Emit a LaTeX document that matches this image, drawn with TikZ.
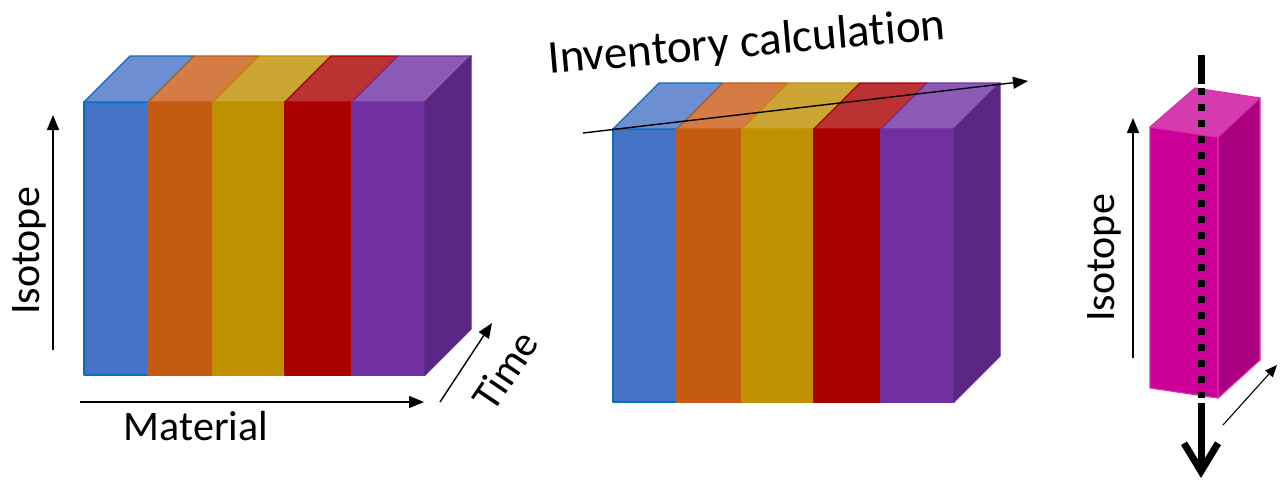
\documentclass[tikz,border=0pt]{standalone}
\usepackage{fontspec}
\setmainfont{Carlito}[Ligatures=NoCommon]
\usetikzlibrary{arrows.meta}
\definecolor{blueedge}{HTML}{0070C0}
\definecolor{bluefront}{HTML}{4472C4}
\definecolor{bluetop}{HTML}{6D8FD2}
\definecolor{orangefront}{HTML}{C55A11}
\definecolor{orangetop}{HTML}{D47C44}
\definecolor{goldfront}{HTML}{BF9000}
\definecolor{goldtop}{HTML}{CBA634}
\definecolor{redfront}{HTML}{AA0000}
\definecolor{redtop}{HTML}{BA3232}
\definecolor{purplefront}{HTML}{7030A0}
\definecolor{purpletop}{HTML}{8D5BB6}
\definecolor{purpleside}{HTML}{5A2782}
\definecolor{pinkfront}{HTML}{CC0099}
\definecolor{pinktop}{HTML}{D63CAE}
\definecolor{pinkside}{HTML}{A8007E}
\definecolor{pinkedge}{HTML}{D92FAA}
\begin{document}
\begin{tikzpicture}[x=1pt, y=-1pt, >={Triangle[length=15pt,width=12pt]},
  face/.style 2 args={draw=#1, fill=#2, line width=1.2pt, line join=round},
  axis/.style={->, line width=1.4pt},
  axislabel/.style={font=\fontsize{42}{48}\selectfont, inner sep=0pt},
  probe/.style={line width=7pt}]
\useasboundingbox (0,0) rectangle (1281,480);

% material blocks (front, top, side)
\foreach \bx/\by in {84/102, 613/129}{
\begin{scope}[shift={(\bx,\by)}]
\filldraw[face={blueedge}{bluefront}] (0,0) rectangle (64,273);
\filldraw[face={blueedge}{bluetop}] (0,0) -- (64,0) -- (110,-46) -- (46,-46) -- cycle;
\filldraw[face={orangefront}{orangefront}] (64,0) rectangle (129,273);
\filldraw[face={orangefront}{orangetop}] (64,0) -- (129,0) -- (175,-46) -- (110,-46) -- cycle;
\filldraw[face={goldfront}{goldfront}] (129,0) rectangle (201,273);
\filldraw[face={goldfront}{goldtop}] (129,0) -- (201,0) -- (247,-46) -- (175,-46) -- cycle;
\filldraw[face={redfront}{redfront}] (201,0) rectangle (268,273);
\filldraw[face={redfront}{redtop}] (201,0) -- (268,0) -- (314,-46) -- (247,-46) -- cycle;
\filldraw[face={purplefront}{purplefront}] (268,0) rectangle (341,273);
\filldraw[face={purplefront}{purpletop}] (268,0) -- (341,0) -- (387,-46) -- (314,-46) -- cycle;
\filldraw[face={purpleside}{purpleside}] (341,0) -- (387,-46) -- (387,227) -- (341,273) -- cycle;
\end{scope}
}

% axes of the left block
\coordinate (isoS) at (53,350);
\coordinate (isoE) at (53,115);
\coordinate (matS) at (80,402);
\coordinate (matE) at (424,402);
\coordinate (timS) at (440,402);
\coordinate (timE) at (492,323);
\draw[axis] (isoS) -- (isoE);
\draw[axis] (matS) -- (matE);
\draw[axis] (timS) -- (timE);
\node[axislabel, rotate=90] (isoL) at (29,251) {Isotope};
\node[axislabel, anchor=base] (matL) at (196,440) {Material};
\node[axislabel, rotate=56] (timL) at (505,370) {Time};

% inventory calculation
\coordinate (invS) at (583,133);
\coordinate (invE) at (1028,81);
\draw[->, line width=1.4pt] (invS) -- (invE);
\node[axislabel, font=\fontsize{47}{54}\selectfont, anchor=base west, rotate=5] (invL) at (549,74) {Inventory calculation};

% single column
\filldraw[face={pinkedge}{pinkfront}] (1150,127) -- (1218,137) -- (1218,398) -- (1150,388) -- cycle;
\filldraw[face={pinkedge}{pinktop}] (1150,127) -- (1218,137) -- (1260,98) -- (1195,88) -- cycle;
\filldraw[face={pinkedge}{pinkside}] (1218,137) -- (1260,98) -- (1260,360) -- (1218,398) -- cycle;
\coordinate (prA) at (1201,55);
\coordinate (prB) at (1201,84);
\coordinate (prC) at (1201,88);
\coordinate (prD) at (1201,398);
\coordinate (prE) at (1201,403);
\coordinate (prF) at (1201,478);
\draw[probe] (prA) -- (prB);
\draw[probe, dash pattern=on 7pt off 9pt] (prC) -- (prD);
\draw[probe, -{Straight Barb[length=28pt,width=34pt]}] (prE) -- (prF);
\coordinate (isoS2) at (1133,358);
\coordinate (isoE2) at (1133,118);
\coordinate (timS2) at (1223,425);
\coordinate (timE2) at (1277,365);
\draw[axis] (isoS2) -- (isoE2);
\draw[->, line width=1.1pt, >={Triangle[length=12pt,width=10pt]}] (timS2) -- (timE2);
\node[axislabel, rotate=90] (isoL2) at (1104,258) {Isotope};
\end{tikzpicture}
\end{document}
